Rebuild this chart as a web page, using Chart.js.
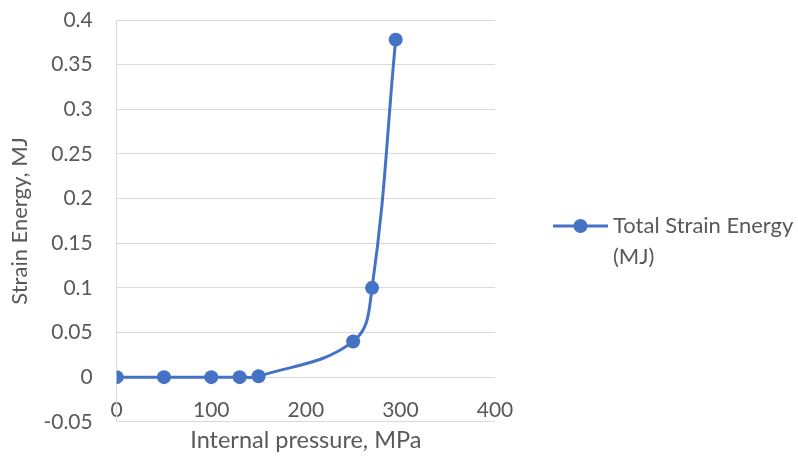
<!DOCTYPE html>
<html lang="en">
  <head>
    <meta charset="utf-8" />
    <title>Strain Energy</title>
    <style>
      * { margin: 0; padding: 0; }
      body { background: #ffffff; }
      .chartBox { width: 798px; height: 457px; }
    </style>
  </head>
  <body>
    <div class="chartBox">
      <canvas id="myChart"></canvas>
    </div>
    <script src="https://cdn.jsdelivr.net/npm/chart.js"></script>
    <script>
      // data
      const pressure = [0, 50, 100, 130, 150, 250, 270, 295];
      const energy = [0, 0, 0, 0, 0.001, 0.04, 0.1, 0.378];
      const seriesName = "Total Strain Energy (MJ)";
      const legendLines = ["Total Strain Energy", "(MJ)"];

      const blue = "#4472C4";
      const gray = "#595959";
      const gridGray = "#D9D9D9";
      const font = "Lato";

      // legend drawn on the right, text wrapped like the original
      const sideLegend = {
        id: "sideLegend",
        afterDraw(chart) {
          const { ctx } = chart;
          const x0 = 553, x1 = 608, y = 226;
          ctx.save();
          ctx.strokeStyle = blue;
          ctx.lineWidth = 3;
          ctx.beginPath();
          ctx.moveTo(x0, y);
          ctx.lineTo(x1, y);
          ctx.stroke();
          ctx.fillStyle = blue;
          ctx.beginPath();
          ctx.arc((x0 + x1) / 2, y, 7, 0, Math.PI * 2);
          ctx.fill();
          ctx.fillStyle = gray;
          ctx.font = "22px " + font;
          ctx.textBaseline = "middle";
          ctx.fillText(legendLines[0], 613, y);
          ctx.fillText(legendLines[1], 613, y + 31);
          ctx.restore();
        },
      };

      const data = {
        datasets: [
          {
            label: seriesName,
            data: pressure.map((p, i) => ({ x: p, y: energy[i] })),
            borderColor: blue,
            backgroundColor: blue,
            borderWidth: 3,
            pointRadius: 7,
            pointHoverRadius: 7,
            pointBorderWidth: 0,
            tension: 0.4,
            xAxisID: "x",
            yAxisID: "y",
          },
        ],
      };

      const config = {
        type: "line",
        data,
        options: {
          responsive: true,
          maintainAspectRatio: false,
          animation: false,
          layout: { padding: { left: 0, right: 303, top: 20, bottom: 2 } },
          plugins: {
            legend: { display: false },
            tooltip: { enabled: false },
          },
          scales: {
            x: {
              type: "linear",
              position: "bottom",
              min: 0,
              max: 400,
              grid: { display: false, drawTicks: false },
              border: { display: false },
              ticks: { display: false, stepSize: 100 },
              title: {
                display: true,
                text: "Internal pressure, MPa",
                color: gray,
                font: { family: font, size: 23.5 },
                padding: { top: 5, bottom: 0 },
              },
            },
            xTicks: {
              axis: "x",
              type: "linear",
              position: { y: 0 },
              min: 0,
              max: 400,
              grid: { display: false },
              border: { display: false },
              ticks: {
                stepSize: 100,
                padding: 12,
                color: gray,
                font: { family: font, size: 21 },
              },
            },
            y: {
              type: "linear",
              position: "left",
              min: -0.05,
              max: 0.4,
              grid: {
                color: gridGray,
                lineWidth: 1,
                drawTicks: true,
                tickLength: 24,
                tickColor: "rgba(0,0,0,0)",
              },
              border: { display: true, color: gridGray, width: 1 },
              ticks: {
                stepSize: 0.05,
                padding: 0,
                color: gray,
                font: { family: font, size: 21 },
                callback: (v) => Math.round(v * 100) / 100,
              },
              title: {
                display: true,
                text: "Strain Energy, MJ",
                color: gray,
                font: { family: font, size: 22 },
                padding: { top: 7, bottom: 10 },
              },
            },
          },
        },
        plugins: [sideLegend],
      };

      const myChart = new Chart(document.getElementById("myChart"), config);
    </script>
  </body>
</html>
